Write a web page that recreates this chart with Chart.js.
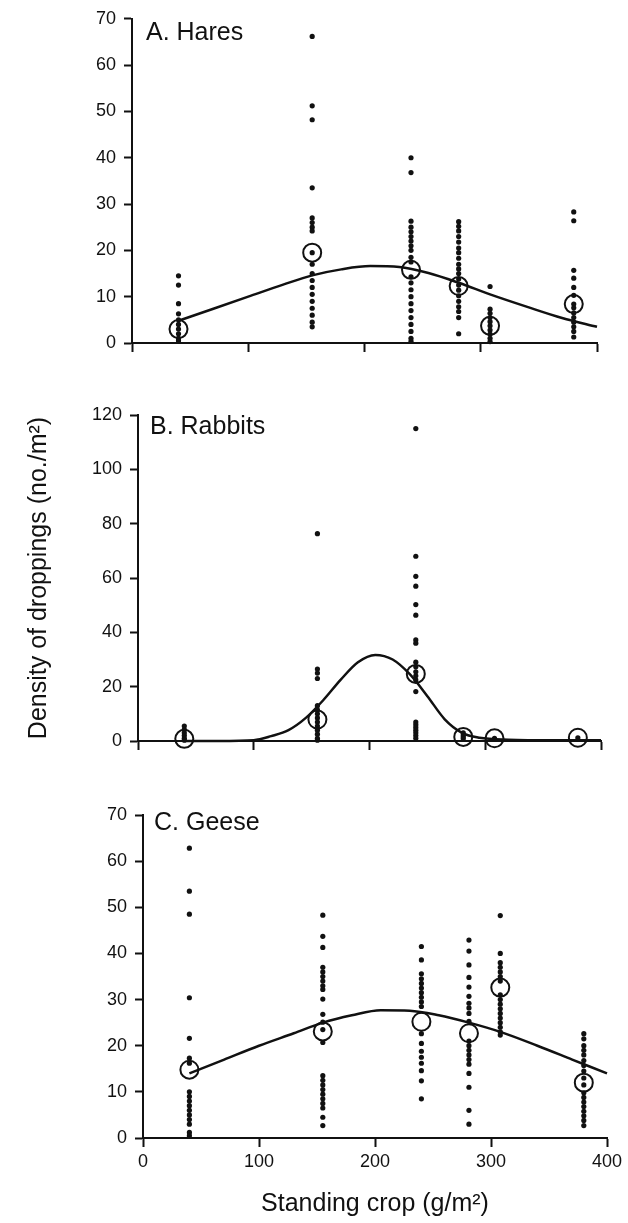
<!DOCTYPE html>
<html>
<head>
<meta charset="utf-8">
<script src="https://cdn.jsdelivr.net/npm/chart.js@4.4.1/dist/chart.umd.min.js"></script>
<style>
html, body { margin: 0; padding: 0; background: #ffffff; }
body { width: 628px; height: 1223px; position: relative; overflow: hidden; }
canvas { position: absolute; left: 0; }
</style>
</head>
<body>
<canvas id="chartA" width="628" height="370" style="top:0px"></canvas>
<canvas id="chartB" width="628" height="380" style="top:380px"></canvas>
<canvas id="chartC" width="628" height="433" style="top:790px"></canvas>
<script>
// ---------- data ----------
const cropLevels = [40, 155, 240, 281, 308, 380];          // standing crop (g/m2) of each site
const xTickValues = [0, 100, 200, 300, 400];
const haresYTicks = [0, 10, 20, 30, 40, 50, 60, 70];
const rabbitsYTicks = [0, 20, 40, 60, 80, 100, 120];
const geeseYTicks = [0, 10, 20, 30, 40, 50, 60, 70];

// individual plot densities, one sub-list per site (same order as cropLevels)
const haresDots = [
  [14.5, 12.5, 8.5, 6.3, 5, 4, 3, 2, 1, 0.5],
  [66.2, 51.2, 48.2, 33.5, 27, 26, 25, 24.2, 19.5, 17, 15, 13.5, 12, 10.5, 9, 7.5, 6, 4.5, 3.5],
  [40, 36.8, 26.3, 25, 24, 23, 22, 21, 20, 18.5, 17.5, 14.3, 13, 11.5, 10, 8.5, 7, 5.5, 4, 2.5, 1, 0.4],
  [26.2, 25.2, 24.2, 23, 21.8, 20.5, 19.5, 18.3, 17, 16, 15, 13.8, 12.5, 11.4, 10.2, 9, 7.8, 6.8, 5.5, 2],
  [12.2, 7.3, 6.4, 5.5, 4.6, 3.7, 2.8, 1.9, 1, 0.3],
  [28.3, 26.4, 15.7, 14, 12, 10.3, 8.4, 7.6, 6.5, 5.5, 4.5, 3.5, 2.5, 1.3]
];
const haresMeans = [3, 19.5, 15.8, 12.3, 3.7, 8.4];
const haresCurveX = [40, 70, 100, 130, 155, 180, 205, 230, 255, 281, 308, 340, 370, 400];
const haresCurveY = [4.8, 7.4, 10, 12.6, 14.6, 15.9, 16.6, 16.4, 15.1, 13, 10.5, 7.8, 5.4, 3.5];

const rabbitsDots = [
  [5.5, 4.2, 3, 2, 1, 0.3],
  [76.3, 26.5, 25, 23, 13, 11.5, 10, 8.5, 7, 5.5, 4, 2.5, 1, 0.3],
  [115, 68, 60.6, 57, 50.2, 46.3, 37.2, 36, 29, 27.3, 25.5, 24, 22.5, 18.2, 7, 6, 5, 4, 3, 2, 1],
  [3, 2.2, 1.5, 0.8],
  [1, 0.6],
  [1.2]
];
const rabbitsMeans = [0.8, 7.9, 24.7, 1.5, 1, 1.2];
const rabbitsCurveX = [40, 70, 100, 115, 130, 145, 160, 175, 190, 205, 220, 235, 250, 265, 280, 295, 320, 360, 400];
const rabbitsCurveY = [0, 0, 0.3, 1.8, 4, 8.5, 15, 22.5, 29, 31.7, 30, 24.5, 16.5, 8, 3, 1.2, 0.5, 0.3, 0.3];

const geeseDots = [
  [62.8, 53.5, 48.5, 30.4, 21.6, 17.3, 16.2, 10, 9, 8, 7, 6, 5, 4, 3, 1.2, 0.5],
  [48.3, 43.7, 41.3, 37, 36, 35, 34, 33, 32.2, 30.1, 26.8, 25.1, 23.5, 20.7, 13.5, 12.5, 11.5, 10.5, 9.5, 8.5, 7.5, 6.5, 4.5, 2.7],
  [41.5, 38.6, 35.6, 34.5, 33.5, 32.5, 31.5, 30.5, 29.5, 28.5, 22.6, 20.5, 18.8, 17.5, 16.2, 14.6, 12.4, 8.5],
  [42.9, 40.5, 37.5, 34.8, 32.7, 30.7, 29.2, 28.2, 27, 25.3, 21, 20, 19, 18, 17, 16, 14, 11, 6, 3],
  [48.2, 40, 38, 37, 36, 35, 34, 31, 30, 29, 28, 27, 26, 25, 24, 23, 22.3],
  [22.6, 21.5, 20, 19, 18, 16.8, 15.7, 14.5, 13, 11.5, 9.8, 8.8, 7.8, 6.8, 5.8, 4.8, 3.8, 2.7]
];
const geeseMeans = [14.8, 23.1, 25.2, 22.7, 32.6, 12];
const geeseCurveX = [40, 70, 100, 130, 155, 180, 205, 230, 255, 281, 308, 340, 370, 400];
const geeseCurveY = [14, 17, 20, 22.7, 25, 26.6, 27.7, 27.6, 26.6, 25, 23, 20, 17, 14];

const panelTitles = ['A. Hares', 'B. Rabbits', 'C. Geese'];
const xAxisTitle = 'Standing crop (g/m²)';
const yAxisTitle = 'Density of droppings (no./m²)';

// ---------- drawing ----------
const INK = '#111111';
const FONT = '"Liberation Sans", Arial, Helvetica, sans-serif';

const panelLabelPlugin = {
  id: 'panelLabel',
  afterDraw(chart, args, opts) {
    const { ctx, chartArea } = chart;
    ctx.save();
    ctx.font = '25px ' + FONT;
    ctx.fillStyle = INK;
    ctx.textAlign = 'left';
    ctx.textBaseline = 'alphabetic';
    ctx.fillText(opts.text, chartArea.left + opts.dx, chartArea.top + opts.dy);
    ctx.restore();
  }
};

function dotPoints(dots) {
  const pts = [];
  dots.forEach((col, i) => col.forEach(v => pts.push({ x: cropLevels[i], y: v })));
  return pts;
}

function makeChart(cfg) {
  const ctx = document.getElementById(cfg.id);
  return new Chart(ctx, {
    type: 'scatter',
    data: {
      datasets: [
        {
          label: 'mean',
          data: cfg.means.map((v, i) => ({ x: cropLevels[i], y: v })),
          pointRadius: 9,
          pointBorderWidth: 2,
          pointBorderColor: INK,
          pointBackgroundColor: 'rgba(0,0,0,0)',
          showLine: false,
          clip: false
        },
        {
          label: 'fit',
          data: cfg.curveX.map((x, i) => ({ x: x, y: cfg.curveY[i] })),
          showLine: true,
          borderColor: INK,
          borderWidth: 2.5,
          pointRadius: 0,
          cubicInterpolationMode: 'monotone',
          fill: false,
          clip: false
        },
        {
          label: 'plots',
          data: dotPoints(cfg.dots),
          pointRadius: 2.6,
          pointBorderWidth: 0,
          pointBackgroundColor: INK,
          showLine: false,
          clip: false
        }
      ]
    },
    options: {
      responsive: false,
      animation: false,
      events: [],
      layout: { padding: { top: cfg.padTop, right: cfg.padRight, left: 0, bottom: 0 } },
      plugins: {
        legend: { display: false },
        tooltip: { enabled: false },
        panelLabel: { text: cfg.title, dx: cfg.labelDx, dy: cfg.labelDy }
      },
      scales: {
        x: {
          type: 'linear',
          min: 0,
          max: 400,
          afterBuildTicks: s => { s.ticks = xTickValues.map(v => ({ value: v })); },
          afterFit: s => { s.height = cfg.xAxisHeight; },
          grid: { display: true, drawOnChartArea: false, drawTicks: true, tickLength: 9, tickWidth: 2, tickColor: INK, color: INK },
          border: { display: true, color: INK, width: 2 },
          ticks: { display: cfg.showXLabels, color: INK, font: { family: FONT, size: 18 }, padding: 4, maxRotation: 0, autoSkip: false },
          title: {
            display: cfg.showXLabels,
            text: xAxisTitle,
            color: INK,
            font: { family: FONT, size: 25 },
            padding: { top: 0, bottom: 4 }
          }
        },
        y: {
          type: 'linear',
          min: 0,
          max: cfg.yTicks[cfg.yTicks.length - 1],
          afterBuildTicks: s => { s.ticks = cfg.yTicks.map(v => ({ value: v })); },
          afterFit: s => { s.width = cfg.yAxisWidth; },
          grid: { display: true, drawOnChartArea: false, drawTicks: true, tickLength: 8, tickWidth: 2, tickColor: INK, color: INK },
          border: { display: true, color: INK, width: 2 },
          ticks: { color: INK, font: { family: FONT, size: 18 }, padding: 8, autoSkip: false },
          title: {
            display: cfg.showYTitle,
            text: yAxisTitle,
            color: INK,
            font: { family: FONT, size: 25 },
            padding: { top: 24, bottom: 0 }
          }
        }
      }
    },
    plugins: [panelLabelPlugin]
  });
}

makeChart({
  id: 'chartA', title: panelTitles[0], dots: haresDots, means: haresMeans,
  curveX: haresCurveX, curveY: haresCurveY, yTicks: haresYTicks,
  padTop: 16, padRight: 31, yAxisWidth: 132, xAxisHeight: 27,
  showXLabels: false, showYTitle: false, labelDx: 14, labelDy: 21
});
makeChart({
  id: 'chartB', title: panelTitles[1], dots: rabbitsDots, means: rabbitsMeans,
  curveX: rabbitsCurveX, curveY: rabbitsCurveY, yTicks: rabbitsYTicks,
  padTop: 35, padRight: 27, yAxisWidth: 138, xAxisHeight: 19,
  showXLabels: false, showYTitle: true, labelDx: 12, labelDy: 19
});
makeChart({
  id: 'chartC', title: panelTitles[2], dots: geeseDots, means: geeseMeans,
  curveX: geeseCurveX, curveY: geeseCurveY, yTicks: geeseYTicks,
  padTop: 25, padRight: 21, yAxisWidth: 143, xAxisHeight: 85,
  showXLabels: true, showYTitle: false, labelDx: 11, labelDy: 15
});
</script>
</body>
</html>
